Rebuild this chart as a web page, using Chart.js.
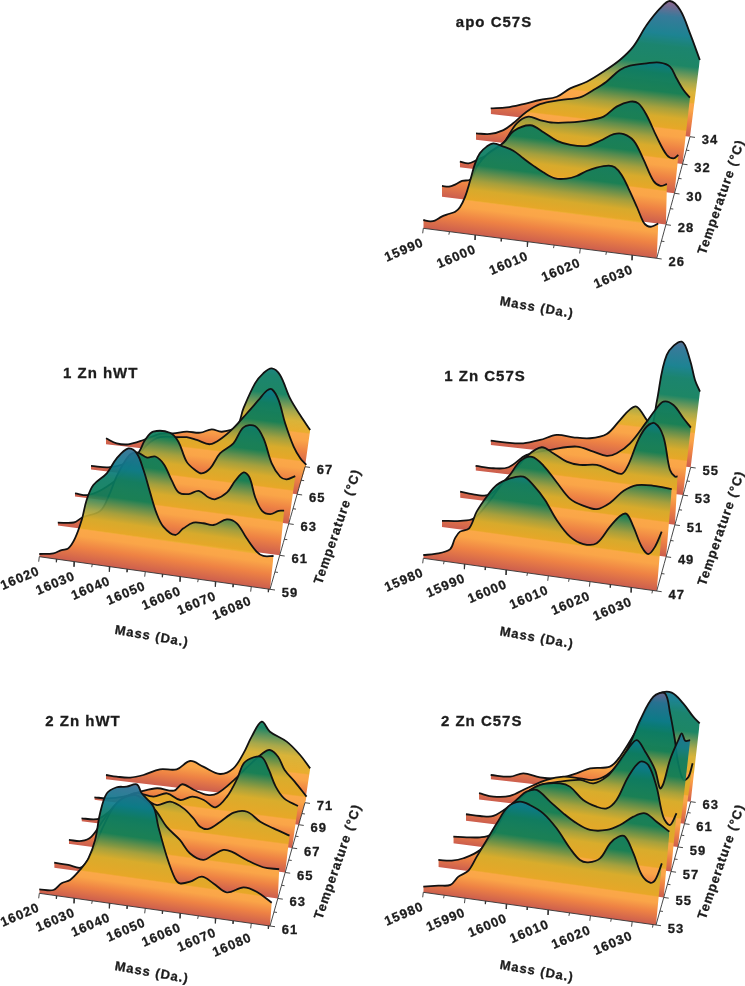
<!DOCTYPE html>
<html>
<head>
<meta charset="utf-8">
<title>Zn melting waterfalls</title>
<script src="https://cdn.jsdelivr.net/npm/chart.js@4"></script>
<style>
  html, body { margin: 0; padding: 0; background: #fff; }
  #page { position: relative; width: 745px; height: 986px; overflow: hidden; }
  canvas { position: absolute; }
</style>
</head>
<body>
<div id="page"></div>
<script>
// apo C57S: mass (Da) and intensity (height in px)
const apoTicksMass = [15990, 16000, 16010, 16020, 16030];
const apoTemps = [26, 28, 30, 32, 34];
const apoMass26 = [15990,15991.3,15992.2,15993.5,15994.8,15996.1,15997,15998,15998.9,15999.9,16000.8,16002.1,16003.4,16005.3,16007.2,16009.1,16011,16012.9,16015.2,16017.4,16019.3,16021.2,16023.1,16025.4,16026.6,16027.9,16029.2,16030.8,16032,16032.7,16033.6,16034.9];
const apoInt26 = [8.3,7.9,9.2,14,17.5,20.7,25.7,37,52.7,71.6,82.3,89.8,94,92,89.2,82.9,76.8,71.4,66.9,68.1,72,78.3,83,86.5,85.6,78.8,66.4,49,35,31.4,31,35];
const apoMass28 = [15990,15991.4,15992.7,15994,15995.7,15997,15999,16002.3,16004.3,16007.6,16010.3,16012.9,16015.6,16018.9,16021.5,16024.2,16026.2,16028.2,16030.1,16032.1,16033.5,16034.8];
const apoInt28 = [10.7,10.9,14,18.2,20.9,35,48,61.8,74.7,82.4,76.8,70.1,67.8,68.9,75.6,83.9,85.2,79.7,62.7,42.3,38.1,40.6];
const apoMass30 = [15990.1,15991.9,15993.6,15996.4,15999.1,16001.9,16004.3,16006.7,16009.5,16012.9,16016.4,16019.9,16022.6,16025.4,16027.1,16028.8,16030.9,16033,16034.4,16035.4];
const apoInt30 = [5.6,4.9,9.3,17.5,29.2,50.8,58.9,56.9,55.9,58.2,62,68,79.6,86.2,85.5,74.9,54.4,37.3,34.7,38.7];
const apoMass32 = [15990.1,15993.1,15996,15998.1,16001,16003.9,16008.2,16012.5,16015.4,16018.2,16021.1,16023.3,16026.9,16029.7,16031.9,16033.3,16034.8,16036.2];
const apoInt32 = [6.4,7.4,12.9,20.8,34,43.2,49.6,54.6,63.5,73.4,86.7,92.2,96.5,98.7,95.9,85,74.1,67.2];
const apoMass34 = [15990,15993.6,15997.3,16001,16004.8,16007.8,16011.5,16015.2,16018.9,16021.9,16024.9,16027.9,16030.1,16032.4,16034.6,16036.8];
const apoInt34 = [5.7,8.5,13.7,19.6,24.8,34.7,43.2,55.1,68.7,83.6,106.7,124.9,133.4,125.5,103.3,77.8];

// 1 Zn hWT
const hwt1TicksMass = [16020, 16030, 16040, 16050, 16060, 16070, 16080];
const hwt1Temps = [59, 61, 63, 65, 67];
const hwt1Mass59 = [16020,16024,16026.3,16028.2,16030.1,16032,16033.4,16035.3,16039.1,16041.9,16045.2,16047.6,16049.5,16051.3,16053.2,16055.1,16058.4,16060.8,16063.6,16066.4,16069.3,16073.1,16075.9,16078.7,16081.5,16083.4,16086.3];
const hwt1Int59 = [2.7,5.3,9.8,12.4,23.4,42.7,63.4,79.3,92.9,109.3,120.9,117.1,101.4,80.7,59.9,47.6,40.9,48.7,55.8,56.6,56.3,63.9,61.3,47.7,35.8,32.4,33.8];
const hwt1Mass61 = [16020,16024.7,16027.2,16032.5,16035,16037.4,16040.9,16043.3,16046.3,16048.7,16051.2,16053.6,16055.6,16058.5,16061.5,16064.4,16066.4,16069.8,16072.2,16074.7,16076.4,16078.1,16080.1,16082.5,16085,16086.6];
const hwt1Int61 = [3,5.2,11.3,20.4,36.5,57.6,79.2,83.7,80,82.1,75.6,60,49.3,49,53.6,48.3,47.5,55.8,68.6,78,73.8,54.6,42.1,39.9,44.4,45.2];
const hwt1Mass63 = [16020,16024.1,16029.7,16035.8,16039.9,16041.4,16043.9,16049,16051.6,16054.1,16056.7,16058.7,16061.3,16064.3,16068.4,16071.5,16075,16077.6,16080.1,16082.7,16084.7,16087.3];
const hwt1Int63 = [3.2,3.3,13.9,33.1,54.8,65.4,74.8,75.9,68,49.1,41.8,39.3,45.3,61.6,73.3,90.6,93.4,82.1,58.2,45.9,44.1,48.5];
const hwt1Mass65 = [16020,16026,16033.4,16037.7,16041.9,16047.2,16050.3,16053.5,16057.7,16061.4,16065.1,16069.4,16073.1,16075.7,16077.3,16079.4,16081.5,16084.2,16086.3,16088.2];
const hwt1Int65 = [3.7,4.6,14.7,31.3,40.6,42.6,43.8,42.3,39.6,47,58.4,75,89.7,100,102,92.1,69.6,47.2,36.4,30.4];
const hwt1Mass67 = [16020,16023.5,16027.3,16032.3,16037.7,16042.1,16046.5,16050.9,16054.7,16058,16062.9,16065.1,16068.9,16071.6,16074.4,16077.1,16080.4,16083.7,16087];
const hwt1Int67 = [6,2.2,2.5,8.5,16.4,18.6,21.7,22.2,26.9,25.6,32.3,51.4,77.7,88.7,94.6,88.9,66.6,51.1,37.2];

// 1 Zn C57S
const c571TicksMass = [15980, 15990, 16000, 16010, 16020, 16030];
const c571Temps = [47, 49, 51, 53, 55];
const c571Mass47 = [15980,15982.8,15986.4,15987.6,15988.8,15991,15992.8,15995.2,15997.6,16000.8,16004,16006.4,16009.2,16012,16015.2,16018.4,16021.6,16024.8,16027.2,16028.8,16030.4,16032.4,16034,16035.6,16037.2];
const c571Int47 = [3.3,6,12.7,24.4,31.8,36.4,54.1,70.5,83.6,92.1,95.7,88.7,75.4,57,42.2,36.7,39.3,57.8,69.9,72.8,61.1,42.2,35.8,44.1,60];
const c571Mass49 = [15980,15984.6,15987.9,15991.3,15994.6,15997.1,15999.6,16002.5,16005.4,16008.7,16012.1,16015.4,16018.7,16022.1,16025.4,16028.7,16032.9,16037.4];
const c571Int49 = [6.1,8.5,12.6,28.7,48.8,61.8,76.5,82,74.6,59.7,44.8,39.9,38.4,46.8,60.3,67.7,69.3,68.4];
const c571Mass51 = [15980.2,15984.5,15988,15994,15997.9,16001.4,16004.4,16007.9,16011.3,16015.7,16019.1,16022.2,16023.9,16026.5,16028.7,16030.8,16033,16034.7,16036,16036.7];
const c571Int51 = [6.1,4.9,7.2,32.8,51.4,60.8,56.3,49.6,48,50.1,46.8,44.3,54.1,80.4,94.8,99.1,86.9,54.4,48.3,48.7];
const c571Mass53 = [15980,15984.8,15988.9,15993.8,16001,16007.3,16011.8,16015.4,16018.1,16021.7,16026.2,16028.5,16030.7,16033.4,16036.1,16038.1];
const c571Int53 = [4.5,4.3,7.1,21.6,30.4,35.9,32.8,30.1,34,45.5,69.2,81.8,91.2,89,76.9,68.4];
const c571Mass55 = [15980,15984.5,15989.1,15993.8,15998.5,16003.1,16007.8,16012.5,16016.2,16019,16020.9,16023.7,16025.1,16026.5,16029.3,16033.5,16035.8,16037.2,16038.6];
const c571Int55 = [4.3,4.1,5.3,10.5,17.4,16.9,17.8,24,39.4,51.2,54.6,42.4,36.3,61.9,109.7,124.7,107.3,87.8,76.7];

// 2 Zn hWT
const hwt2TicksMass = [16020, 16030, 16040, 16050, 16060, 16070, 16080];
const hwt2Temps = [61, 63, 65, 67, 69, 71];
const hwt2Mass61 = [16020,16024,16026.3,16028.7,16031.5,16033.9,16035.8,16037.2,16039.1,16041.9,16044.7,16047.6,16049,16052.3,16053.7,16056.1,16058.4,16059.8,16062.7,16066,16069.3,16073.1,16077.8,16081.5,16085.8];
const hwt2Int61 = [4,5.3,13.2,17.7,29.1,41.9,61.2,88.6,109.5,117,119,122.8,114.5,102.8,83.5,54.7,34.2,29.9,33,39.7,34.6,27.5,34.9,32.4,23.6];
const hwt2Mass63 = [16020,16024.1,16028,16031.4,16034.3,16038.2,16043.1,16047,16049.9,16052.8,16056.7,16059.6,16063.5,16066.4,16069.4,16071.8,16076.2,16081,16085.7];
const hwt2Int63 = [5.2,4.8,4.3,23.3,48,73.1,83.7,78.9,70.3,56.6,45.1,33.2,28.3,34.7,41.1,40.5,34.2,29.2,29.4];
const hwt2Mass65 = [16020.2,16024,16027,16030.6,16034.6,16039.6,16043.6,16046.7,16050.7,16054.7,16057.7,16059.7,16062.2,16065.8,16069.8,16073.8,16077.8,16081.8,16086.6];
const hwt2Int65 = [4,4.6,10.3,28.5,46.9,57.5,54.2,50.5,55.6,50.7,42,34.6,33.4,42.2,53,55.7,47.5,42.6,37.4];
const hwt2Mass67 = [16020,16023.7,16025.7,16029.9,16036.1,16042.3,16046.5,16050.6,16054.3,16057.9,16061.5,16065.1,16068.3,16070.3,16073.4,16076,16078.1,16080.2,16082.8,16087.1];
const hwt2Int67 = [2.8,3.3,5.2,16.9,34.4,33.7,38.7,33.7,38.6,36.7,30.9,43,62.6,78.5,85.8,86.8,75,59.2,48.6,42.7];
const hwt2Mass69 = [16020.1,16024,16029.4,16034.8,16040.1,16045.5,16048.1,16051.9,16056.2,16059.4,16064.7,16069,16073.8,16076,16078.7,16080.8,16084,16087.8];
const hwt2Int69 = [2.4,2.9,6.7,13.7,19.1,18.8,26.2,21.9,18.6,21.5,36.9,51.8,67,71.2,65.5,53,42.6,29];
const hwt2Mass71 = [16020,16023.5,16027.9,16032.3,16037.7,16043.2,16047.6,16051.9,16057.4,16061.8,16065.1,16067.8,16071.1,16073.8,16079.3,16083.7,16087];
const hwt2Int71 = [4.3,3.9,4.5,8.7,16.3,18.3,28.2,24.1,18.7,25.9,42.1,59.8,75.9,66.9,58.9,47.1,34.9];

// 2 Zn C57S
const c572TicksMass = [15980, 15990, 16000, 16010, 16020, 16030];
const c572Temps = [53, 55, 57, 59, 61, 63];
const c572Mass53 = [15980,15983.6,15986.5,15988.4,15990.8,15992.8,15995.2,15997.6,16000.3,16003.1,16005.5,16008.7,16011.9,16015.1,16017.5,16019.5,16022.3,16024.7,16026.7,16028.3,16030.3,16032.3,16034.3,16035.5,16037.1];
const c572Int53 = [5.7,8.8,11.2,20.6,28,43.2,61.2,79.3,97.6,104.2,102.3,95.8,82.7,64.6,54.3,53.2,58.8,75.2,83,84,68.5,48,41.5,44.9,62.5];
const c572Mass55 = [15980,15983.3,15986.2,15990.3,15993.6,15996.9,16000.2,16001.8,16004.3,16007.6,16010.9,16014.2,16017.5,16021.6,16024.9,16028.2,16031.1,16034,16037.1];
const c572Int55 = [7.1,8.3,12.2,22.7,41.2,66.3,81.5,87.4,90.4,80.5,70.6,62.4,57.6,59.8,66.6,76.7,81.6,74.5,66.6];
const c572Mass57 = [15980.2,15983.6,15987,15989.5,15992.9,15997.2,16002.3,16007.4,16009.9,16013.3,16016.7,16019.3,16021.8,16024.8,16027.8,16029.9,16032,16033.7,16035.4,16037.1];
const c572Int57 = [6.7,7.8,9.5,13.1,29.8,53.7,69.6,73.8,71.8,60.2,55.2,54.8,64.5,89.3,105.8,103.5,82.9,53.8,46.3,58.9];
const c572Mass59 = [15980,15983.7,15987.2,15992.4,15998.6,16004.7,16010,16013.5,16017,16019.6,16022.7,16024.9,16027.1,16029.7,16031,16031.9,16033.6,16035.8,16036.7,16037.6,16038.9];
const c572Int59 = [6.5,6.5,8.2,23.3,42.9,50.7,54.9,53.2,61.5,74.4,92.5,101.8,91.2,74.1,56.4,61.8,86,107,114.1,107.1,108.4];
const c572Mass61 = [15980.1,15984,15988.5,15993,15998.4,16002.9,16007.4,16011,16014.7,16018.3,16021,16023.7,16027.3,16030.4,16031.8,16033.1,16034,16035.4,16036.8,16037.9];
const c572Int61 = [6.3,4.6,7.3,16.9,27.6,32.8,33.1,33,39.6,54.5,74,98.5,123.4,128.1,108.7,82.6,59.7,43.6,47.5,61.4];
const c572Mass63 = [15980,15985.4,15989.1,15993.7,15998.4,16003.9,16007.7,16013.2,16016,16020.6,16024.4,16027.1,16030.4,16033.6,16036.4,16038.2];
const c572Int63 = [4.3,4.8,9.6,7.5,8.4,15.6,22.1,26,37.1,65.6,93.8,104.9,106.9,97.5,85.3,79.4];

// where each plot box sits on the page, front/back corners of the floor
const panels = [
  { title: 'apo C57S', titleAt: [494, 23], massAt: [536.7, 308], tempAt: [721.7, 197],
    box: [372, 0, 373, 330], FL: [423.3, 228.3], FR: [656.7, 258.3], BL: [490.7, 114], BR: [690, 136.7],
    massRange: [15990, 16034.6], massTicks: apoTicksMass, temps: apoTemps, bandGap: 33,
    masses: [apoMass26, apoMass28, apoMass30, apoMass32, apoMass34],
    ints: [apoInt26, apoInt28, apoInt30, apoInt32, apoInt34] },
  { title: '1 Zn hWT', titleAt: [100.7, 374], massAt: [151.7, 636.7], tempAt: [338, 526.7],
    box: [0, 345, 372, 320], FL: [39.3, 556.7], FR: [270, 589.3], BL: [106, 444.3], BR: [305, 466.7],
    massRange: [16020, 16085.3], massTicks: hwt1TicksMass, temps: hwt1Temps, bandGap: 33,
    masses: [hwt1Mass59, hwt1Mass61, hwt1Mass63, hwt1Mass65, hwt1Mass67],
    ints: [hwt1Int59, hwt1Int61, hwt1Int63, hwt1Int65, hwt1Int67] },
  { title: '1 Zn C57S', titleAt: [485, 376.7], massAt: [536.7, 638.3], tempAt: [721.7, 528.3],
    box: [372, 330, 373, 330], FL: [423.3, 558.3], FR: [656.7, 591], BL: [490.7, 445], BR: [690.7, 467.3],
    massRange: [15980, 16036], massTicks: c571TicksMass, temps: c571Temps, bandGap: 34,
    masses: [c571Mass47, c571Mass49, c571Mass51, c571Mass53, c571Mass55],
    ints: [c571Int47, c571Int49, c571Int51, c571Int53, c571Int55] },
  { title: '2 Zn hWT', titleAt: [83, 722], massAt: [151.7, 973], tempAt: [338.3, 861.7],
    box: [0, 675, 372, 311], FL: [39.3, 893.3], FR: [270, 926], BL: [106, 779.3], BR: [305, 802.7],
    massRange: [16020, 16085.3], massTicks: hwt2TicksMass, temps: hwt2Temps, bandGap: 28,
    masses: [hwt2Mass61, hwt2Mass63, hwt2Mass65, hwt2Mass67, hwt2Mass69, hwt2Mass71],
    ints: [hwt2Int61, hwt2Int63, hwt2Int65, hwt2Int67, hwt2Int69, hwt2Int71] },
  { title: '2 Zn C57S', titleAt: [481.7, 721.7], massAt: [536.7, 971.7], tempAt: [721.7, 861.7],
    box: [372, 675, 373, 311], FL: [423.3, 892.3], FR: [656, 925], BL: [490.7, 779.3], BR: [690.7, 801.7],
    massRange: [15980, 16035.7], massTicks: c572TicksMass, temps: c572Temps, bandGap: 28,
    masses: [c572Mass53, c572Mass55, c572Mass57, c572Mass59, c572Mass61, c572Mass63],
    ints: [c572Int53, c572Int55, c572Int57, c572Int59, c572Int61, c572Int63] }
];

const lerp = (a, b, t) => a + (b - a) * t;

// temperature to depth on the floor, with a bit of perspective
function depth(p, temp) {
  let t = (temp - p.temps[0]) / (p.temps[p.temps.length - 1] - p.temps[0]);
  return t * 1.15 / (1 + 0.15 * t);
}

function project(p, mass, temp, height) {
  let u = (mass - p.massRange[0]) / (p.massRange[1] - p.massRange[0]);
  let v = depth(p, temp);
  let lx = lerp(p.FL[0], p.BL[0], v), ly = lerp(p.FL[1], p.BL[1], v);
  let rx = lerp(p.FR[0], p.BR[0], v), ry = lerp(p.FR[1], p.BR[1], v);
  return { x: lerp(lx, rx, u), y: lerp(ly, ry, u) - height };
}

// colour by height above the sheet's own floor line
// the canvas is 1:1 with the box, scales are not laid out yet when this runs
function heightFill(c, p, temp) {
  let a = project(p, p.massRange[0], temp, 0), b = project(p, p.massRange[1], temp, 0);
  let dx = b.x - a.x, dy = b.y - a.y, len = Math.hypot(dx, dy);
  let zMax = 140, k = zMax * dx / len;
  let ox = a.x - p.box[0], oy = a.y - p.box[1];
  let g = c.chart.ctx.createLinearGradient(ox, oy, ox + dy / len * k, oy - dx / len * k);
  let gap = p.bandGap;
  let stops = [[0, '204,94,78', 1], [gap * 0.45, '238,130,68', 1], [gap * 0.8, '250,165,72', 1], [gap, '251,168,72', 1], [gap + 1.5, '232,170,38', 0.96],
    [45, '214,174,42', 0.93], [54, '158,160,60', 0.92], [63, '78,138,78', 0.92], [70, '10,124,88', 0.92], [88, '8,122,98', 0.92],
    [100, '12,122,138', 0.93], [118, '40,112,146', 0.93], [134, '142,90,135', 0.95], [140, '150,90,135', 0.95]];
  stops.forEach(s => g.addColorStop(Math.min(s[0] / zMax, 1), 'rgba(' + s[1] + ',' + s[2] + ')'));
  return g;
}

// mass axis and temperature axis, ticks go through the same projection
function axisDataset(p) {
  let pts = [], gap = { x: NaN, y: NaN };
  let lowT = p.temps[0], highT = p.temps[p.temps.length - 1];
  pts.push(project(p, p.massRange[0], lowT, 0), project(p, p.massRange[1], lowT, 0), gap);
  let step = p.massTicks[1] - p.massTicks[0];
  p.massTicks.forEach(m => {
    [m, m + step / 2].forEach((tick, i) => {
      if (tick > p.massRange[1]) return;
      let q = project(p, tick, lowT, 0);
      pts.push(q, { x: q.x - 0.6, y: q.y + (i ? 3 : 5) }, gap);
    });
  });
  for (let i = 0; i <= 20; i++) pts.push(project(p, p.massRange[1], lerp(lowT, highT, i / 20), 0));
  pts.push(gap);
  p.temps.forEach((t, i) => {
    [t, t + 1].forEach((tick, j) => {
      if (tick > highT) return;
      let q = project(p, p.massRange[1], tick, 0);
      pts.push(q, { x: q.x + (j ? 3 : 5), y: q.y + (j ? 0.4 : 0.7) }, gap);
    });
  });
  return { data: pts, borderColor: '#333', borderWidth: 0.9, fill: false, tension: 0, pointRadius: 0 };
}

function buildDatasets(p) {
  let sets = [axisDataset(p)];
  p.temps.forEach((temp, i) => {
    let curve = p.masses[i].map((m, k) => project(p, m, temp, p.ints[i][k]));
    let floor = [project(p, p.massRange[0], temp, 0), project(p, p.massRange[1], temp, 0), curve[curve.length - 1]];
    sets.push({
      data: curve, borderColor: '#121212', borderWidth: 1.8, tension: 0.35, pointRadius: 0,
      fill: sets.length + 1, backgroundColor: c => heightFill(c, p, temp)
    });
    sets.push({ data: floor, borderWidth: 0, borderColor: 'rgba(0,0,0,0)', pointRadius: 0, tension: 0, fill: false });
  });
  return sets;
}

const labelFont = 'bold 13px "Liberation Sans"';

function putText(ctx, text, x, y, angle, font) {
  ctx.save();
  ctx.translate(x, y);
  ctx.rotate(angle * Math.PI / 180);
  ctx.font = font;
  ctx.letterSpacing = '1px';
  ctx.fillStyle = '#1c1c1c';
  ctx.strokeStyle = '#1c1c1c';
  ctx.lineWidth = 0.3;
  ctx.textAlign = 'center';
  ctx.textBaseline = 'middle';
  ctx.fillText(text, 0, 0);
  ctx.strokeText(text, 0, 0);
  ctx.restore();
}

const axisText = {
  id: 'axisText',
  afterDatasetsDraw(chart, args, opts) {
    let p = opts.panel, ctx = chart.ctx, sx = chart.scales.x, sy = chart.scales.y;
    let px = v => sx.getPixelForValue(v), py = v => sy.getPixelForValue(v);
    p.massTicks.forEach(m => {
      let q = project(p, m, p.temps[0], 0);
      putText(ctx, String(m), px(q.x - 19), py(q.y + 22), -23, labelFont);
    });
    p.temps.forEach(t => {
      let q = project(p, p.massRange[1], t, 0);
      putText(ctx, String(t), px(q.x + 20), py(q.y + 4), 0, labelFont);
    });
    putText(ctx, p.title, px(p.titleAt[0]), py(p.titleAt[1]), 0, 'bold 15px "Liberation Sans"');
    putText(ctx, 'Mass (Da.)', px(p.massAt[0]), py(p.massAt[1]), 10, labelFont);
    putText(ctx, 'Temperature (°C)', px(p.tempAt[0]), py(p.tempAt[1]), -71, labelFont);
  }
};

let page = document.querySelector('#page');
panels.forEach(p => {
  let canvas = document.createElement('canvas');
  canvas.width = p.box[2];
  canvas.height = p.box[3];
  canvas.style.left = p.box[0] + 'px';
  canvas.style.top = p.box[1] + 'px';
  page.appendChild(canvas);
  new Chart(canvas, {
    type: 'line',
    data: { datasets: buildDatasets(p) },
    options: {
      responsive: false,
      animation: false,
      layout: { padding: 0 },
      plugins: { legend: { display: false }, tooltip: { enabled: false }, axisText: { panel: p } },
      scales: {
        x: { type: 'linear', display: false, min: p.box[0], max: p.box[0] + p.box[2] },
        y: { type: 'linear', display: false, reverse: true, min: p.box[1], max: p.box[1] + p.box[3] }
      }
    },
    plugins: [axisText]
  });
});
</script>
</body>
</html>
